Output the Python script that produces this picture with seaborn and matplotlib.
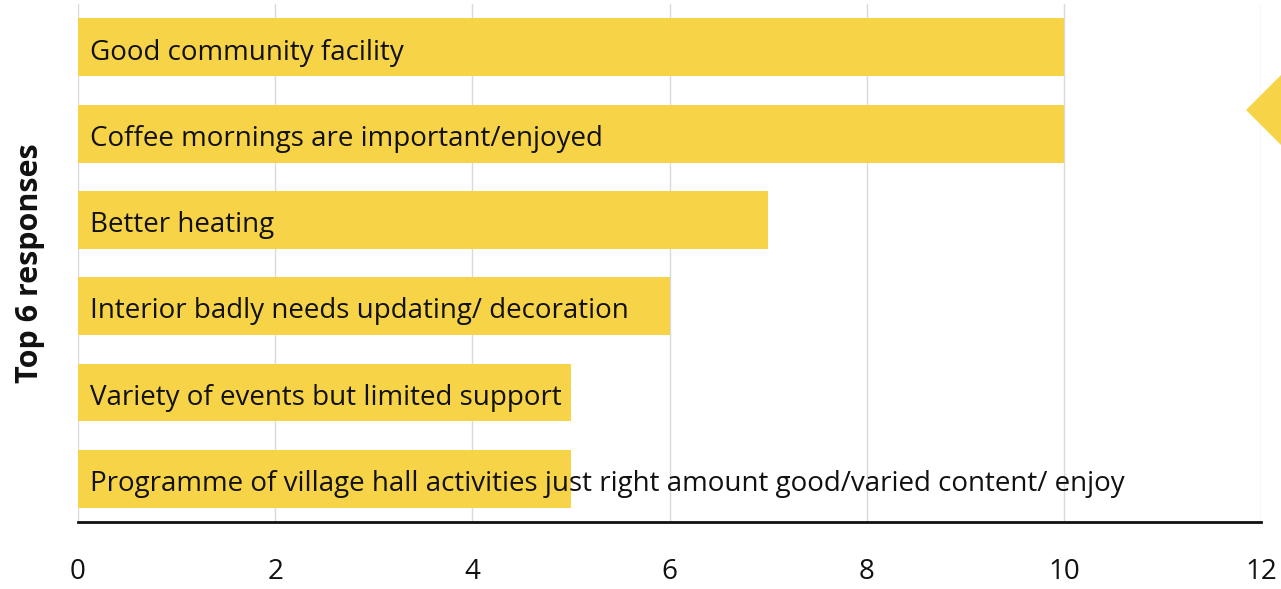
import matplotlib
matplotlib.use("Agg")
import matplotlib.pyplot as plt
import seaborn as sns
import pandas as pd
from matplotlib.patches import Polygon

# Data
responses = [
    "Good community facility",
    "Coffee mornings are important/enjoyed",
    "Better heating",
    "Interior badly needs updating/ decoration",
    "Variety of events but limited support",
    "Programme of village hall activities just right amount good/varied content/ enjoy",
]
counts = [10, 10, 7, 6, 5, 5]
x_ticks = [0, 2, 4, 6, 8, 10, 12]

BAR_COLOR = "#F7D348"
GRID_COLOR = "#D9D9D9"
TEXT_COLOR = "#111111"

sns.set_theme(style="white")
plt.rcParams["font.family"] = ["Open Sans", "DejaVu Sans"]

df = pd.DataFrame({"response": responses, "count": counts})

fig = plt.figure(figsize=(12.81, 5.89), dpi=100)
ax = fig.add_axes([0.0609, 0.1138, 0.9235, 0.879])

sns.barplot(data=df, y="response", x="count", orient="h", color=BAR_COLOR,
            saturation=1, width=0.67, linewidth=0, ax=ax, zorder=2)

# Category labels drawn inside the bars
for i, label in enumerate(responses):
    ax.text(0.12, i + 0.06, label, va="center", ha="left", fontsize=20,
            color=TEXT_COLOR, zorder=3)

ax.set_xlim(0, 12)
ax.set_ylim(5.5, -0.5)
ax.set_xticks(x_ticks)
ax.set_xticklabels([str(t) for t in x_ticks], fontsize=20, color=TEXT_COLOR)
ax.tick_params(axis="x", length=0, pad=26)
ax.set_yticks([])
ax.xaxis.grid(True, color=GRID_COLOR, linewidth=1, zorder=0)
ax.set_axisbelow(True)

for side in ["top", "right", "left"]:
    ax.spines[side].set_visible(False)
ax.spines["bottom"].set_color(TEXT_COLOR)
ax.spines["bottom"].set_linewidth(2)

ax.set_xlabel("")
ax.set_ylabel("Top 6 responses", fontsize=22, fontweight="bold",
              color=TEXT_COLOR, labelpad=24)

# Decorative yellow diamond cut off at the right edge
w, h = 1281, 589
cx, cy, r = 1290, 110, 43
diamond = Polygon([((cx - r) / w, 1 - cy / h), (cx / w, 1 - (cy - r) / h),
                   ((cx + r) / w, 1 - cy / h), (cx / w, 1 - (cy + r) / h)],
                  closed=True, transform=fig.transFigure, color=BAR_COLOR)
fig.add_artist(diamond)

fig.savefig("out.png", dpi=100)
